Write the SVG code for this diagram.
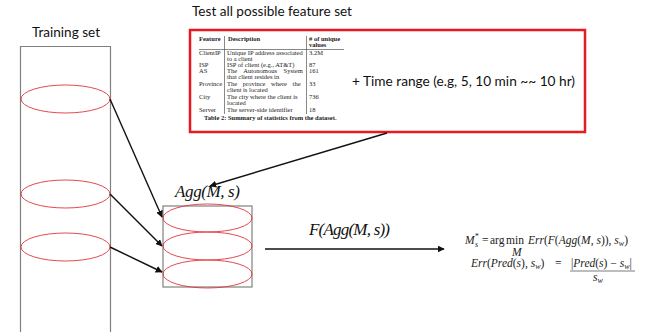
<svg xmlns="http://www.w3.org/2000/svg" width="656" height="332" viewBox="0 0 656 332">
  <style>
    .lbl { font-family: Lato, "Open Sans", "Liberation Sans", sans-serif; fill: #111; }
    .math { font-family: "Liberation Serif", serif; font-style: italic; fill: #111; }
    .tbl { font-family: "Liberation Serif", serif; font-size: 6.5px; fill: #222; }
    .tblb { font-family: "Liberation Serif", serif; font-size: 6.5px; font-weight: bold; fill: #222; }
    .tex { font-family: "Liberation Serif", serif; font-size: 11.5px; fill: #222; }
    .it { font-style: italic; }
    .sub { font-style: italic; font-size: 8px; }
    .box { fill: none; stroke: #808080; stroke-width: 1.2; }
    .slice { fill: none; stroke: #e0343a; stroke-width: 0.9; }
    .conn { stroke: #111; stroke-width: 1.4; fill: none; marker-end: url(#arrow); }
    .rule { stroke: #555; stroke-width: 0.7; }
  </style>
  <defs>
    <marker id="arrow" viewBox="0 0 10 10" refX="9" refY="5" markerWidth="5" markerHeight="5" orient="auto">
      <path d="M0,0 L10,5 L0,10 z" fill="#111"/>
    </marker>
  </defs>

  <rect width="656" height="332" fill="#fff"/>

  <!-- Training set column -->
  <g id="training-set">
    <text class="lbl" x="32" y="37" font-size="13" textLength="68" lengthAdjust="spacingAndGlyphs">Training set</text>
    <path class="box" d="M20.5,340 V46.5 H110.5 V340"/>
    <ellipse class="slice" cx="65.5" cy="99" rx="44.5" ry="14"/>
    <ellipse class="slice" cx="65.5" cy="194" rx="44.5" ry="14"/>
    <ellipse class="slice" cx="65.5" cy="247" rx="44.5" ry="14"/>
  </g>

  <!-- Feature set table -->
  <g id="feature-table">
    <text class="lbl" x="192" y="16" font-size="13" textLength="160" lengthAdjust="spacingAndGlyphs">Test all possible feature set</text>
    <rect x="190" y="30" width="395" height="102" fill="#fff" stroke="#e8191f" stroke-width="2.5"/>
    <text class="tblb" x="199" y="41">Feature</text>
    <text class="tblb" x="228" y="41">Description</text>
    <text class="tblb" x="309" y="41"># of unique</text>
    <text class="tblb" x="309" y="47">values</text>
    <line class="rule" x1="199" y1="49.5" x2="344" y2="49.5"/>
    <line class="rule" x1="224.5" y1="36" x2="224.5" y2="114"/>
    <line class="rule" x1="306.5" y1="36" x2="306.5" y2="114"/>
    <text class="tbl" x="199" y="55">ClientIP</text>
    <text class="tbl" x="227" y="55">Unique IP address associated</text>
    <text class="tbl" x="227" y="61">to a client</text>
    <text class="tbl" x="309" y="55">3.2M</text>
    <text class="tbl" x="199" y="67">ISP</text>
    <text class="tbl" x="227" y="67">ISP of client (e.g., AT&amp;T)</text>
    <text class="tbl" x="309" y="67">87</text>
    <text class="tbl" x="199" y="73">AS</text>
    <text class="tbl" x="227" y="73" word-spacing="5">The Autonomous System</text>
    <text class="tbl" x="227" y="79">that client resides in</text>
    <text class="tbl" x="309" y="73">161</text>
    <text class="tbl" x="199" y="86">Province</text>
    <text class="tbl" x="227" y="86" word-spacing="4">The province where the</text>
    <text class="tbl" x="227" y="92">client is located</text>
    <text class="tbl" x="309" y="86">33</text>
    <text class="tbl" x="199" y="99">City</text>
    <text class="tbl" x="227" y="99">The city where the client is</text>
    <text class="tbl" x="227" y="105">located</text>
    <text class="tbl" x="309" y="99">736</text>
    <text class="tbl" x="199" y="112">Server</text>
    <text class="tbl" x="227" y="112">The server-side identifier</text>
    <text class="tbl" x="309" y="112">18</text>
    <text class="tblb" x="204" y="120">Table 2: Summary of statistics from the dataset.</text>
  </g>

  <!-- Time range note -->
  <g id="time-range">
    <text class="lbl" x="352" y="86" font-size="14" textLength="223" lengthAdjust="spacingAndGlyphs">+ Time range (e.g, 5, 10 min ~~ 10 hr)</text>
  </g>

  <!-- Aggregated slices -->
  <g id="aggregate">
    <text class="math" x="175" y="197" font-size="17" textLength="65" lengthAdjust="spacing">Agg(M, s)</text>
    <rect class="box" x="163" y="206" width="89" height="81"/>
    <ellipse class="slice" cx="207.5" cy="218" rx="44.5" ry="14"/>
    <ellipse class="slice" cx="207.5" cy="246" rx="44.5" ry="14"/>
    <ellipse class="slice" cx="207.5" cy="274" rx="44.5" ry="14"/>
  </g>

  <!-- Objective: M*_s = argmin_M Err(...) and the error definition -->
  <g id="objective">
    <text class="tex" x="465" y="244"><tspan class="it">M</tspan><tspan class="sub" font-size="7" dy="-5">*</tspan><tspan class="sub" font-size="7" dx="-3.5" dy="8">s</tspan><tspan x="482" dy="-3">=</tspan><tspan x="490">arg</tspan><tspan x="506">min</tspan><tspan x="528" class="it">Err</tspan>(<tspan class="it">F</tspan>(<tspan class="it">Agg</tspan>(<tspan class="it">M</tspan>, <tspan class="it">s</tspan>)), <tspan class="it">s</tspan><tspan class="sub" dy="2">w</tspan><tspan dy="-2">)</tspan></text>
    <text class="tex" x="512" y="256" font-size="8.5" font-style="italic">M</text>
    <text class="tex" x="471" y="267"><tspan class="it">Err</tspan>(<tspan class="it">Pred</tspan>(<tspan class="it">s</tspan>), <tspan class="it">s</tspan><tspan class="sub" dy="2">w</tspan><tspan dy="-2">)</tspan><tspan x="555">=</tspan></text>
    <text class="tex" x="571" y="267">|<tspan class="it">Pred</tspan>(<tspan class="it">s</tspan>) − <tspan class="it">s</tspan><tspan class="sub" dy="2">w</tspan><tspan dy="-2">|</tspan></text>
    <line x1="570" y1="271" x2="635" y2="271" stroke="#222" stroke-width="0.6"/>
    <text class="tex" x="593" y="281"><tspan class="it">s</tspan><tspan class="sub" dy="2">w</tspan></text>
  </g>

  <!-- Connectors -->
  <g id="connectors">
    <line class="conn" x1="110" y1="99" x2="162" y2="217"/>
    <line class="conn" x1="110" y1="194" x2="162" y2="246"/>
    <line class="conn" x1="110" y1="247" x2="162" y2="272"/>
    <line class="conn" x1="387" y1="133" x2="210" y2="186"/>
    <line class="conn" x1="265" y1="249" x2="444" y2="249" stroke-width="1"/>
    <text class="math" x="309" y="235" font-size="17" textLength="81" lengthAdjust="spacing">F(Agg(M, s))</text>
  </g>
</svg>
